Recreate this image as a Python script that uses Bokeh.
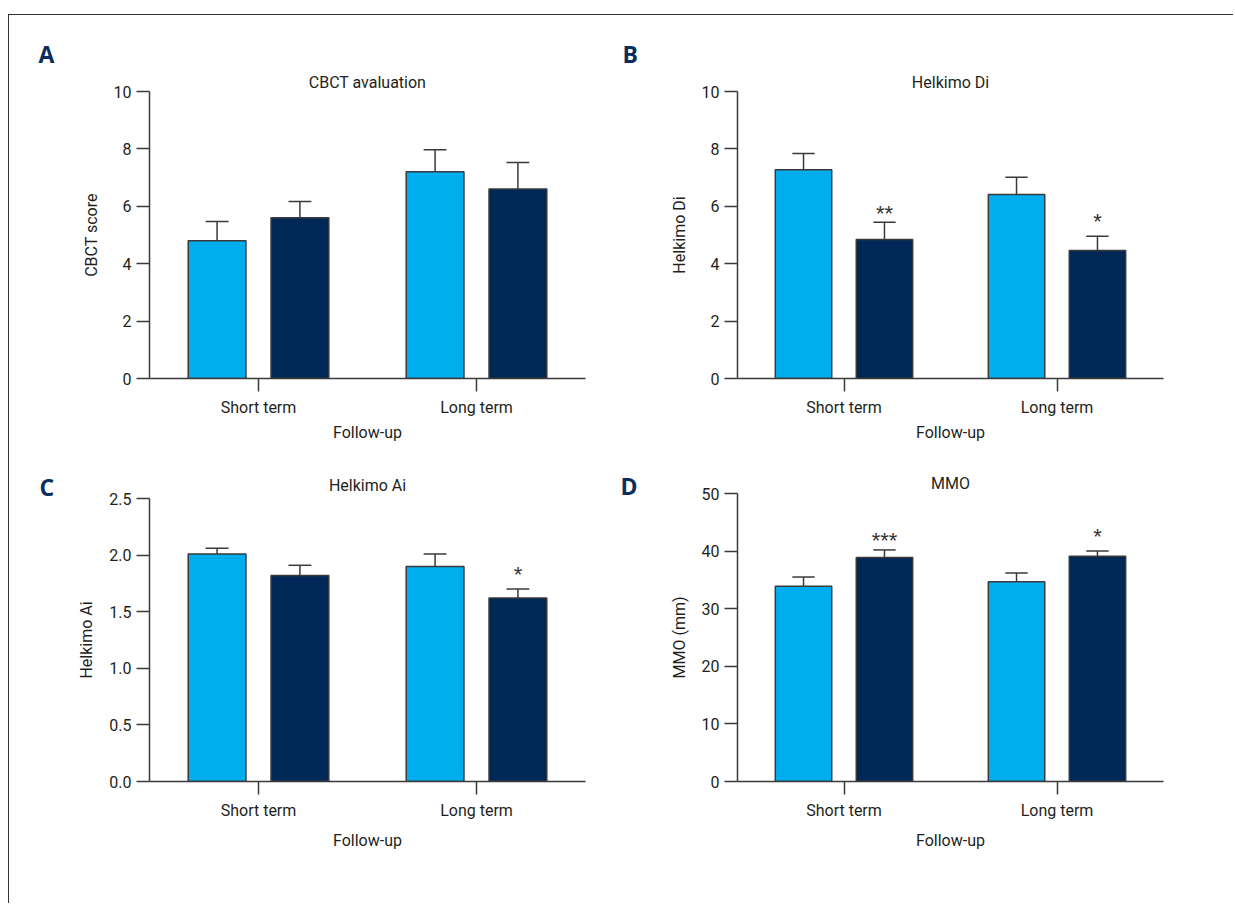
from bokeh.plotting import figure
from bokeh.models import Range1d, FixedTicker, ColumnDataSource, NumeralTickFormatter
from bokeh.layouts import row, column
from bokeh.embed import file_html
from bokeh.resources import INLINE
from bokeh.core.properties import value

# ---------------- data ----------------
categories = ["Short term", "Long term"]

cbct_mean_1 = [4.8, 7.2]
cbct_err_1 = [0.67, 0.77]
cbct_mean_2 = [5.6, 6.6]
cbct_err_2 = [0.57, 0.93]
cbct_stars = ["", ""]

di_mean_1 = [7.27, 6.41]
di_err_1 = [0.57, 0.60]
di_mean_2 = [4.84, 4.46]
di_err_2 = [0.60, 0.50]
di_stars = ["**", "*"]

ai_mean_1 = [2.01, 1.90]
ai_err_1 = [0.05, 0.11]
ai_mean_2 = [1.82, 1.62]
ai_err_2 = [0.09, 0.08]
ai_stars = ["", "*"]

mmo_mean_1 = [33.9, 34.7]
mmo_err_1 = [1.6, 1.5]
mmo_mean_2 = [38.9, 39.1]
mmo_err_2 = [1.3, 0.9]
mmo_stars = ["***", "*"]

ticks_10 = [0, 2, 4, 6, 8, 10]
ticks_ai = [0.0, 0.5, 1.0, 1.5, 2.0, 2.5]
ticks_mmo = [0, 10, 20, 30, 40, 50]

panel_letters_left = ["A", "C"]
panel_letters_right = ["B", "D"]

# ---------------- style ----------------
FONT = "Roboto"
LIGHT = "#00AEEF"
DARK = "#002856"
AXC = "#3a3a3a"
TXT = "#231f20"
LETTER = "#0b2d5e"

OFF = 0.19
BW = 0.265
CAP = 0.105
FS = "16px"


def panel(title, ylabel, m1, e1, m2, e2, stars, ymax, ticks,
          width, height, bl, br, bt, bb, title_standoff=0, xlabel_standoff=3, fmt=None):
    p = figure(width=width, height=height, output_backend="svg", toolbar_location=None,
               x_range=Range1d(-0.5, 1.5), y_range=Range1d(0, ymax),
               min_border_left=bl, min_border_right=br, min_border_top=bt,
               min_border_bottom=bb)
    p.outline_line_color = None
    p.grid.visible = False

    idx = list(range(len(categories)))
    x1 = [i - OFF for i in idx]
    x2 = [i + OFF for i in idx]

    for xs, m, e, col in ((x1, m1, e1, LIGHT), (x2, m2, e2, DARK)):
        tops = [mi + ei for mi, ei in zip(m, e)]
        src = ColumnDataSource(dict(x=xs, top=m, etop=tops,
                                    cl=[x - CAP / 2 for x in xs],
                                    cr=[x + CAP / 2 for x in xs]))
        p.segment(x0="x", y0="top", x1="x", y1="etop", source=src,
                  line_color=AXC, line_width=1.5)
        p.segment(x0="cl", y0="etop", x1="cr", y1="etop", source=src,
                  line_color=AXC, line_width=1.5)
        p.vbar(x="x", top="top", bottom=0, width=BW, source=src,
               fill_color=col, line_color=AXC, line_width=1.5)

    star_y = [mi + ei for mi, ei in zip(m2, e2)]
    star_off = [-15 if len(s) == 1 else -9 for s in stars]
    ssrc = ColumnDataSource(dict(x=x2, y=star_y, text=stars, off=star_off))
    p.text(x="x", y="y", text="text", y_offset="off", source=ssrc,
           text_align="center", text_baseline="alphabetic",
           text_font=value("Liberation Sans"), text_font_size="22px",
           text_color="#333333")

    for ax in (p.xaxis[0], p.yaxis[0]):
        ax.axis_line_color = AXC
        ax.axis_line_width = 1.5
        ax.major_tick_line_color = AXC
        ax.major_tick_line_width = 1.5
        ax.minor_tick_line_color = None
        ax.major_tick_in = 0
        ax.major_tick_out = 13
        ax.major_label_text_font = FONT
        ax.major_label_text_font_size = FS
        ax.major_label_text_color = TXT
        ax.axis_label_text_font = FONT
        ax.axis_label_text_font_size = FS
        ax.axis_label_text_font_style = "normal"
        ax.axis_label_text_color = TXT

    p.yaxis.ticker = FixedTicker(ticks=ticks)
    if fmt:
        p.yaxis.formatter = NumeralTickFormatter(format=fmt)
    p.yaxis.axis_label = ylabel
    p.yaxis.axis_label_standoff = 10
    p.yaxis.major_label_standoff = 5

    p.xaxis.ticker = FixedTicker(ticks=idx)
    p.xaxis.major_label_overrides = {i: c for i, c in zip(idx, categories)}
    p.xaxis.axis_label = "Follow-up"
    p.xaxis.major_label_standoff = 6
    p.xaxis.axis_label_standoff = xlabel_standoff

    p.title.text = title
    p.title.align = "center"
    p.title.text_font = FONT
    p.title.text_font_size = FS
    p.title.text_font_style = "normal"
    p.title.text_color = TXT
    p.title.standoff = title_standoff
    p.title.vertical_align = "bottom"
    return p


def strip(width, height, letters, xs, ys):
    s = figure(width=width, height=height, output_backend="svg", toolbar_location=None,
               x_range=Range1d(0, width), y_range=Range1d(height, 0),
               x_axis_type=None, y_axis_type=None, min_border=0)
    s.outline_line_color = None
    s.grid.visible = False
    s.text(x=xs, y=ys, text=letters, text_align="left", text_baseline="middle",
           text_font=value("Open Sans"), text_font_style="bold",
           text_font_size="23px", text_color=LETTER)
    return s


H1, H2 = 450, 438
pA = panel("CBCT avaluation", "CBCT score", cbct_mean_1, cbct_err_1,
           cbct_mean_2, cbct_err_2, cbct_stars, 10, ticks_10,
           538, H1, 78, 24, 76, 87)
pB = panel("Helkimo Di", "Helkimo Di", di_mean_1, di_err_1,
           di_mean_2, di_err_2, di_stars, 10, ticks_10,
           574, H1, 78, 70, 76, 87)
pC = panel("Helkimo Ai", "Helkimo Ai", ai_mean_1, ai_err_1,
           ai_mean_2, ai_err_2, ai_stars, 2.5, ticks_ai,
           538, H2, 78, 24, 33, 122, title_standoff=7, xlabel_standoff=8, fmt="0.0")
pD = panel("MMO", "MMO (mm)", mmo_mean_1, mmo_err_1,
           mmo_mean_2, mmo_err_2, mmo_stars, 50, ticks_mmo,
           574, H2, 78, 70, 28, 122, title_standoff=1, xlabel_standoff=8)

sL = strip(62, H1 + H2, panel_letters_left, [29, 30], [38, 471])
sR = strip(50, H1 + H2, panel_letters_right, [13, 11], [38, 470])

layout = row(sL, column(pA, pC), sR, column(pB, pD),
             styles={"border-top": "1px solid #333", "border-left": "1px solid #333",
                     "margin-top": "14px", "margin-left": "8px"})

open("out.html", "w").write(file_html(layout, INLINE))
